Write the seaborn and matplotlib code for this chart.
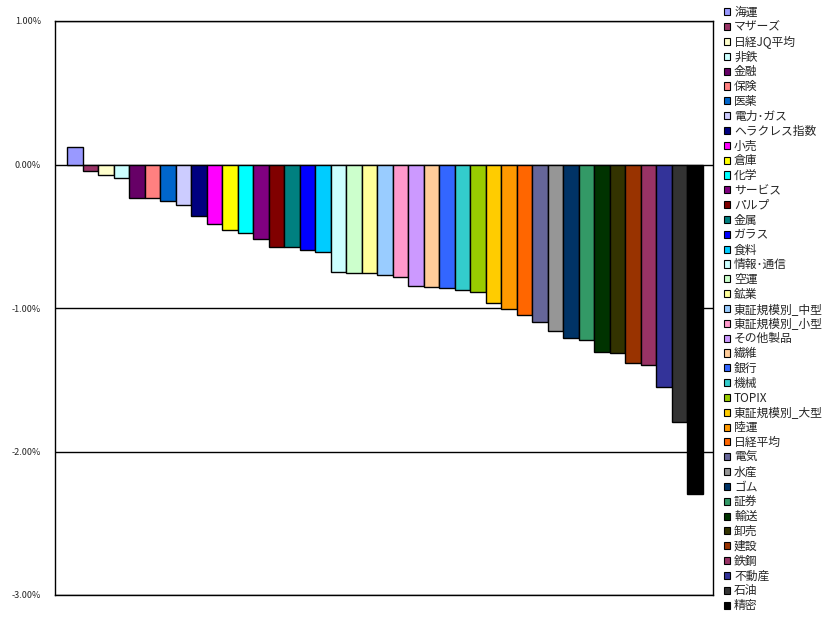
import matplotlib
matplotlib.use("Agg")
import matplotlib.pyplot as plt
import seaborn as sns
import pandas as pd
from matplotlib.patches import Patch
from matplotlib.ticker import FuncFormatter

names = ["海運", "マザーズ", "日経JQ平均", "非鉄", "金融", "保険", "医薬", "電力･ガス",
         "ヘラクレス指数", "小売", "倉庫", "化学", "サービス", "パルプ", "金属", "ガラス",
         "食料", "情報･通信", "空運", "鉱業", "東証規模別_中型", "東証規模別_小型",
         "その他製品", "繊維", "銀行", "機械", "TOPIX", "東証規模別_大型", "陸運",
         "日経平均", "電気", "水産", "ゴム", "証券", "輸送", "卸売", "建設", "鉄鋼",
         "不動産", "石油", "精密"]

# 騰落率 (%)
values = [0.12, -0.044, -0.075, -0.093, -0.232, -0.233, -0.253, -0.281,
          -0.36, -0.413, -0.455, -0.476, -0.518, -0.574, -0.575, -0.595,
          -0.609, -0.748, -0.755, -0.756, -0.769, -0.786,
          -0.845, -0.856, -0.858, -0.873, -0.887, -0.964, -1.008,
          -1.052, -1.096, -1.159, -1.208, -1.222, -1.308, -1.312, -1.382, -1.396,
          -1.549, -1.793, -2.298]

colors = ["#9999FF", "#993366", "#FFFFCC", "#CCFFFF", "#660066", "#FF8080", "#0066CC", "#CCCCFF",
          "#000080", "#FF00FF", "#FFFF00", "#00FFFF", "#800080", "#800000", "#008080", "#0000FF",
          "#00CCFF", "#CCFFFF", "#CCFFCC", "#FFFF99", "#99CCFF", "#FF99CC",
          "#CC99FF", "#FFCC99", "#3366FF", "#33CCCC", "#99CC00", "#FFCC00", "#FF9900",
          "#FF6600", "#666699", "#969696", "#003366", "#339966", "#003300", "#333300", "#993300", "#993366",
          "#333399", "#333333", "#000000"]

yticks = [1, 0, -1, -2, -3]

df = pd.DataFrame({"name": names, "value": values})

sns.set_style("white")
plt.rcParams['font.family'] = ['Noto Sans CJK JP', 'DejaVu Sans']

fig = plt.figure(figsize=(8.34, 6.27), dpi=100)
ax = fig.add_axes([55 / 834, 32 / 627, 658 / 834, 574 / 627])

sns.barplot(data=df, x="name", y="value", hue="name", palette=colors, dodge=False,
            saturation=1, width=1.0, edgecolor="black", linewidth=1.0, legend=False,
            ax=ax, zorder=3)

ax.set_ylim(-3, 1)
ax.set_xlim(-0.5 - 12 / 15.5, len(names) - 0.5 + 10 / 15.5)
ax.set_yticks(yticks)
ax.yaxis.set_major_formatter(FuncFormatter(lambda v, p: f"{v:.2f}%".replace("−", "-")))
ax.tick_params(axis="y", labelsize=6.5, length=0, pad=10)
ax.set_xticks([])
ax.set_xlabel("")
ax.set_ylabel("")
ax.grid(axis="y", color="black", linewidth=1.0, zorder=0)
for s in ax.spines.values():
    s.set_color("black")
    s.set_linewidth(1.0)

handles = [Patch(facecolor=c, edgecolor="black", linewidth=0.8) for c in colors]
fig.legend(handles, names, loc="upper left", bbox_to_anchor=(724 / 834, 1 - 6 / 627),
           frameon=False, fontsize=8.5, handlelength=0.55, handleheight=0.55,
           handletextpad=0.3, labelspacing=0.155, borderpad=0, borderaxespad=0)

fig.savefig("out.png", dpi=100)
